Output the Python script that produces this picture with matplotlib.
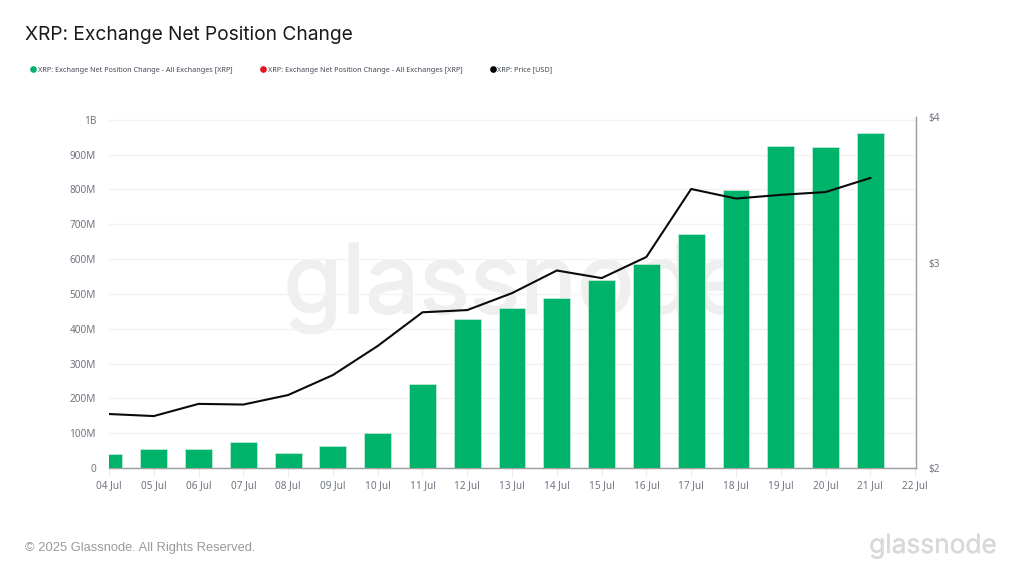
import matplotlib
matplotlib.use("Agg")
import matplotlib.pyplot as plt
import matplotlib.dates as mdates
import matplotlib.patheffects as pe
from matplotlib.lines import Line2D
from matplotlib.ticker import FuncFormatter, FixedLocator, NullLocator
import pandas as pd

dates = pd.date_range("2025-07-04", "2025-07-21", freq="D")
net_position_m = [40, 55, 54, 74, 44, 62, 101, 241, 427, 459, 488, 541, 586, 672, 798, 924, 921, 963]
price_usd = [2.225, 2.216, 2.27, 2.267, 2.31, 2.403, 2.545, 2.72, 2.732, 2.825, 2.954, 2.91, 3.034,
             3.47, 3.405, 3.43, 3.449, 3.546]
left_ticks_m = [0, 100, 200, 300, 400, 500, 600, 700, 800, 900, 1000]
left_labels = ["0", "100M", "200M", "300M", "400M", "500M", "600M", "700M", "800M", "900M", "1B"]
right_ticks = [2, 3, 4]
legend_labels = ["XRP: Exchange Net Position Change - All Exchanges [XRP]",
                 "XRP: Exchange Net Position Change - All Exchanges [XRP]",
                 "XRP: Price [USD]"]

GREEN = "#00b36b"
GRAY = "#6f7480"
TICK_FONT = "Noto Sans"
W, H = 1024, 576
fig = plt.figure(figsize=(W / 100, H / 100), dpi=100, facecolor="white")
ax = fig.add_axes([109 / W, 1 - 468 / H, (916 - 109) / W, (468 - 117) / H])
ax.patch.set_alpha(0)

fig.text(516 / W, 1 - 313 / H, "glassnode", ha="center", va="baseline", fontsize=69, family="Inter",
         color="#efefef", zorder=-5,
         path_effects=[pe.withStroke(linewidth=1.4, foreground="#efefef")])

ax.bar(dates, net_position_m, width=0.6, color=GREEN, edgecolor="#c8eedd", linewidth=0.5, zorder=3)
ax.set_xlim(pd.Timestamp("2025-07-04"), pd.Timestamp("2025-07-22 00:30"))
ax.set_ylim(0, 1008)
ax.yaxis.set_major_locator(FixedLocator(left_ticks_m))
ax.set_yticklabels(left_labels)
ax.grid(axis="y", color="#f3f3f3", linewidth=1, zorder=0)
ax.set_axisbelow(True)
ax.xaxis.set_major_locator(mdates.DayLocator())
ax.xaxis.set_major_formatter(mdates.DateFormatter("%d Jul"))
ax.tick_params(axis="x", length=6.5, width=0.8, color="#ececec", pad=2, labelsize=7.2, labelcolor=GRAY)
ax.tick_params(axis="y", length=0, pad=9.4, labelsize=7.2, labelcolor=GRAY)
for lab in ax.get_xticklabels() + ax.get_yticklabels():
    lab.set_family(TICK_FONT)
for s in ["top", "left"]:
    ax.spines[s].set_visible(False)
for s in ["bottom", "right"]:
    ax.spines[s].set_color("#a0a0a0")
    ax.spines[s].set_linewidth(1)

ax2 = ax.twinx()
ax2.set_yscale("log", base=2)
ax2.set_ylim(2, 4)
ax2.plot(dates, price_usd, color="#0a0a0a", linewidth=1.5, zorder=5)
ax2.yaxis.set_major_locator(FixedLocator(right_ticks))
ax2.yaxis.set_minor_locator(NullLocator())
ax2.yaxis.set_major_formatter(FuncFormatter(lambda v, _: f"${v:.0f}"))
ax2.tick_params(axis="y", length=0, pad=9, labelsize=7.2, labelcolor=GRAY)
for lab in ax2.get_yticklabels():
    lab.set_family(TICK_FONT)
for s in ["top", "left"]:
    ax2.spines[s].set_visible(False)
for s in ["bottom", "right"]:
    ax2.spines[s].set_color("#a0a0a0")

fig.text(25 / W, 1 - 35.5 / H, "XRP: Exchange Net Position Change", family="Inter", fontsize=13.8,
         color="#1a1a1a", ha="left", va="center")

handles = [Line2D([], [], ls="none", marker="o", ms=3.8, color=c) for c in [GREEN, "#e8141c", "#000000"]]
fig.legend(handles, legend_labels, loc="center left", bbox_to_anchor=(29.5 / W, 1 - 70 / H), ncol=3,
           frameon=False, prop={"family": TICK_FONT, "size": 5.25}, labelcolor="#444b55",
           handlelength=1, handletextpad=0.13, columnspacing=3.7, borderpad=0, borderaxespad=0)

fig.text(25 / W, 1 - 547.5 / H, "© 2025 Glassnode. All Rights Reserved.", family="Liberation Sans",
         fontsize=9.25, color="#9a9a9a", ha="left", va="center")
fig.text(997 / W, 1 - 553 / H, "glassnode", family="Inter", fontsize=18.9, color="#d9d9d9", ha="right",
         va="baseline", path_effects=[pe.withStroke(linewidth=0.3, foreground="#d9d9d9")])

fig.savefig("out.png", dpi=100, facecolor="white")
